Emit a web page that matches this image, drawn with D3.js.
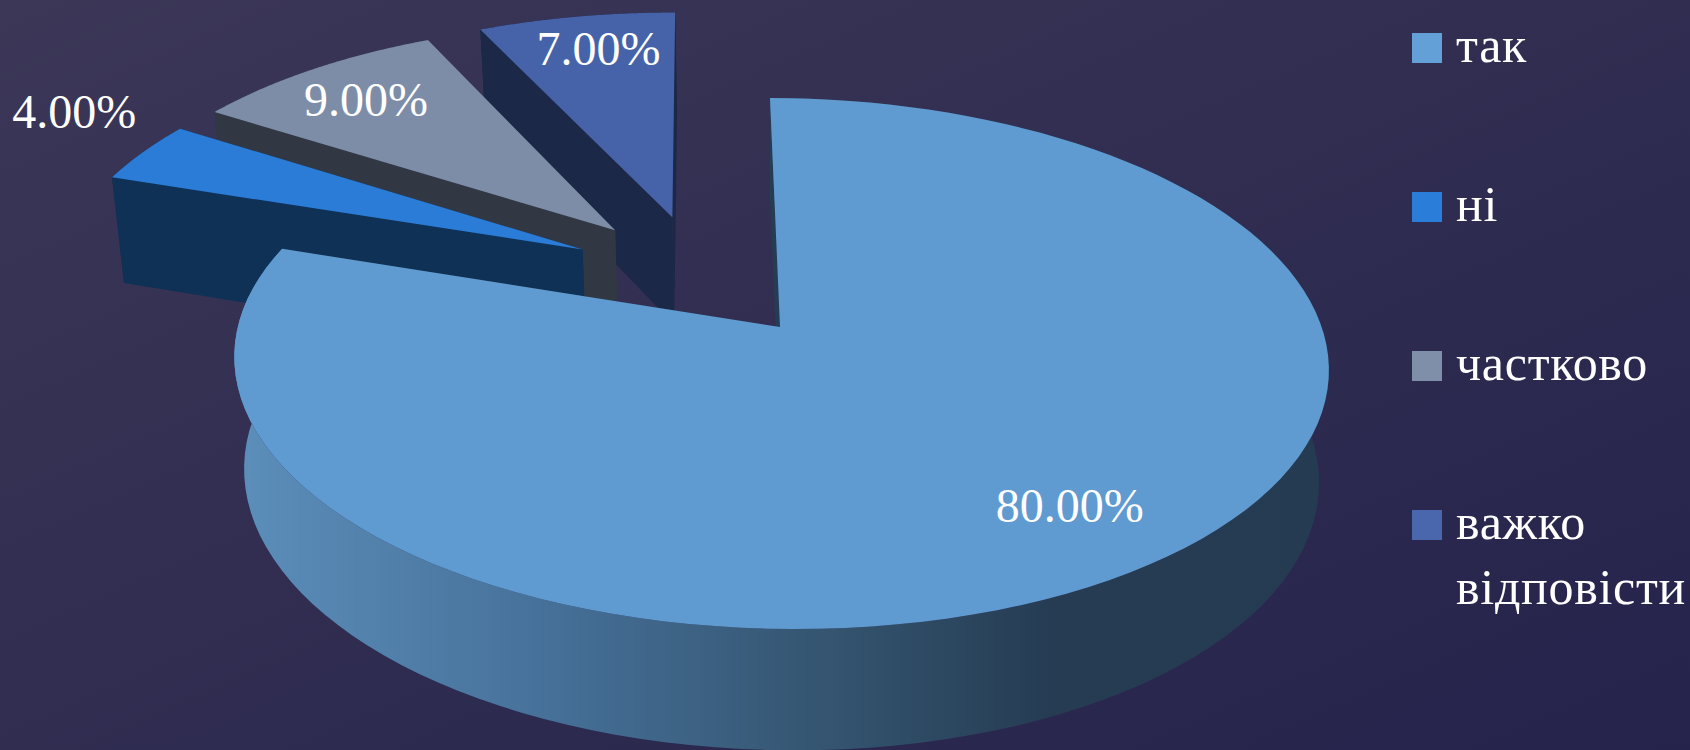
<!DOCTYPE html>
<html>
<head>
<meta charset="utf-8">
<script src="https://cdn.jsdelivr.net/npm/d3@7"></script>
<style>
  html, body { margin: 0; padding: 0; background: #2e2b50; overflow: hidden; }
  svg { display: block; }
  text { font-family: "Liberation Serif", serif; fill: #fff; }
</style>
</head>
<body>
<svg width="1690" height="750"></svg>
<script>
const categories = ['так', 'ні', 'частково', 'важко відповісти']
const shares = [80, 4, 9, 7]
const topColors = ['#5f9bd0', '#2a7cd6', '#7d8da8', '#4663a9']
const rimColors = ['url(#mainWall)', '#103156', '#323843', '#1c2847']
const cutColors = ['#243d54', '#103156', '#323843', '#1c2847']
const swatchColors = ['#62a0d7', '#2a7dd8', '#7f8fa9', '#4a67ad']
// where the value label sits, relative to the slice tip, in pie radii
const labelOffsetU = [0.476, -1.076, -0.535, -0.165]
const labelOffsetV = [-0.6215, 0.622, 0.6, 0.808]

const width = 1690, height = 750
const svg = d3.select('svg')
const defs = svg.append('defs')

const bg = defs.append('linearGradient').attr('id', 'bg')
    .attr('x1', 0).attr('y1', 0).attr('x2', 1).attr('y2', 1)
bg.append('stop').attr('offset', 0).attr('stop-color', '#3c3757')
bg.append('stop').attr('offset', 0.5).attr('stop-color', '#302d51')
bg.append('stop').attr('offset', 1).attr('stop-color', '#25234c')
svg.append('rect').attr('width', width).attr('height', height).attr('fill', 'url(#bg)')

const wall = defs.append('linearGradient').attr('id', 'mainWall')
    .attr('gradientUnits', 'userSpaceOnUse')
    .attr('x1', 232).attr('y1', 0).attr('x2', 1326).attr('y2', 0)
wall.append('stop').attr('offset', 0).attr('stop-color', '#5c8fbb')
wall.append('stop').attr('offset', 0.3).attr('stop-color', '#456f97')
wall.append('stop').attr('offset', 0.55).attr('stop-color', '#34546f')
wall.append('stop').attr('offset', 0.75).attr('stop-color', '#253c53')
wall.append('stop').attr('offset', 1).attr('stop-color', '#243b52')

// perspective of the tilted pie, origin is the tip of the big slice
const ox = 780, oy = 327, A = 542, B = 260.5, K = 0.1375
const shearX = -0.0437, shearY = 0.002
const depth = 111, shrink = 0.018
const explode = 0.25

function project(u, v, z) {
    const w = 1 + K * v
    const f = 1 - shrink * z
    const x = ox + f * (A * u + shearX * B * v) / w
    const y = oy + (-B * v + shearY * A * u) / w + depth * z / Math.pow(w, 0.6)
    return [x, y]
}

const slices = d3.pie().sort(null).value(d => d)(shares)
const mid = s => (s.startAngle + s.endAngle) / 2
const pieU = -explode * Math.sin(mid(slices[0]))
const pieV = -explode * Math.cos(mid(slices[0]))
const tipU = s => pieU + explode * Math.sin(mid(s))
const tipV = s => pieV + explode * Math.cos(mid(s))

const line = d3.line()
const edgePoints = (s, z) => d3.range(0, 121).map(i => {
    const a = s.startAngle + (s.endAngle - s.startAngle) * i / 120
    return project(tipU(s) + Math.sin(a), tipV(s) + Math.cos(a), z)
})
const radial = (s, a, z) => project(tipU(s) + Math.sin(a), tipV(s) + Math.cos(a), z)
const tip = (s, z) => project(tipU(s), tipV(s), z)

// painted back to front, the big slice comes last
const order = [3, 2, 1, 0]
const groups = svg.selectAll('.slice').data(order).enter().append('g').classed('slice', true)

groups.each(function (i) {
    const s = slices[i]
    const g = d3.select(this)
    g.append('path').attr('fill', rimColors[i])
        .attr('d', line(edgePoints(s, 0).concat(edgePoints(s, 1).reverse())) + 'Z')
    g.append('path').attr('fill', cutColors[i])
        .attr('d', line([tip(s, 0), radial(s, s.endAngle, 0), radial(s, s.endAngle, 1), tip(s, 1)]) + 'Z')
    g.append('path').attr('fill', cutColors[i])
        .attr('d', line([tip(s, 0), radial(s, s.startAngle, 0), radial(s, s.startAngle, 1), tip(s, 1)]) + 'Z')
    g.append('path').attr('fill', topColors[i])
        .attr('d', line([tip(s, 0)].concat(edgePoints(s, 0))) + 'Z')
})

const fmt = d3.format('.2f')
svg.selectAll('.value').data(slices).enter().append('text')
    .classed('value', true)
    .attr('text-anchor', 'middle')
    .attr('font-size', 48)
    .attr('dy', 17)
    .attr('x', (s, i) => project(tipU(s) + labelOffsetU[i], tipV(s) + labelOffsetV[i], 0)[0])
    .attr('y', (s, i) => project(tipU(s) + labelOffsetU[i], tipV(s) + labelOffsetV[i], 0)[1])
    .text(s => fmt(s.value) + '%')

// legend
const legendY = d3.scalePoint().domain(categories).range([48, 525])
const legend = svg.selectAll('.legend').data(categories).enter().append('g')
    .classed('legend', true)
    .attr('transform', d => `translate(1412,${legendY(d)})`)
legend.append('rect').attr('y', -15).attr('width', 30).attr('height', 30)
    .attr('fill', (d, i) => swatchColors[i])
legend.append('text')
    .attr('x', 44)
    .attr('y', 14)
    .attr('font-size', 50)
    .attr('letter-spacing', 0.7)
    .each(function (d) {
        const words = d.split(' ')
        d3.select(this).selectAll('tspan').data(words).enter().append('tspan')
            .attr('x', 44)
            .attr('dy', (w, j) => j ? 65 : 0)
            .text(w => w)
    })
</script>
</body>
</html>
